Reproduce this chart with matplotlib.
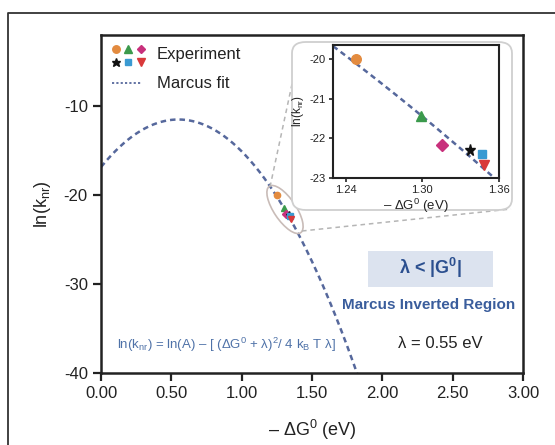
import numpy as np
import matplotlib
matplotlib.use("Agg")
import matplotlib.pyplot as plt
from matplotlib.patches import Ellipse, FancyBboxPatch, Rectangle
from matplotlib.lines import Line2D
from matplotlib.transforms import IdentityTransform

plt.rcParams['font.family'] = ['Liberation Sans', 'DejaVu Sans']
plt.rcParams['mathtext.fontset'] = 'custom'
plt.rcParams['mathtext.rm'] = 'Liberation Sans'
plt.rcParams['mathtext.it'] = 'Liberation Sans:italic'
plt.rcParams['mathtext.bf'] = 'Liberation Sans:bold'
plt.rcParams['mathtext.default'] = 'regular'
plt.rcParams['axes.unicode_minus'] = False

# Marcus fit parameters
ln_A = -11.5
lam = 0.55
kT = 0.0257

# experimental points (-dG0 in eV, ln(knr))
exp_x = [1.248, 1.299, 1.315, 1.337, 1.347, 1.348]
exp_y = [-20.0, -21.45, -22.18, -22.29, -22.40, -22.68]
exp_markers = ['o', '^', 'D', '*', 's', 'v']
exp_colors = ['#e38b3f', '#3b9a4c', '#c8307c', '#111111', '#3a9ad2', '#d9393a']
exp_sizes = [6, 6, 5, 7, 5, 6]

fit_color = '#56689c'


def marcus(x):
    return ln_A - (x - lam) ** 2 / (4 * kT * lam)


W, H = 555, 445
fig = plt.figure(figsize=(W / 100, H / 100), dpi=100)

def px_rect(l, t, r, b):
    return [l / W, (H - b) / H, (r - l) / W, (b - t) / H]

ax = fig.add_axes(px_rect(101, 35, 523, 373))

xs = np.linspace(0, 2.0, 400)
ax.plot(xs, marcus(xs), ls=(0, (2.2, 1.6)), color=fit_color, lw=1.8, zorder=2)
for x, y, m, c, s in zip(exp_x, exp_y, exp_markers, exp_colors, exp_sizes):
    ax.plot([x], [y], marker=m, color=c, ms=s * 0.75, ls='', zorder=3)

ax.set_xlim(0, 3)
ax.set_ylim(-40, -2)
ax.set_xticks([0, 0.5, 1.0, 1.5, 2.0, 2.5, 3.0])
ax.set_xticklabels([f"{v:.2f}" for v in [0, 0.5, 1.0, 1.5, 2.0, 2.5, 3.0]])
ax.set_yticks([-40, -30, -20, -10])
ax.tick_params(labelsize=12, width=1.6, length=6, color='#222222', labelcolor='#222222')
for s in ax.spines.values():
    s.set_linewidth(1.8)
    s.set_color('#222222')
ax.set_xlabel('– ΔG$^0$ (eV)', fontsize=13, labelpad=12, color='#222222')
ax.set_ylabel('ln(k$_{nr}$)', fontsize=13, labelpad=8, color='#222222')

# legend drawn by hand
def axf(px, py):
    return ((px - 101) / 422, (373 - py) / 338)

leg_pos = [(116, 49), (128, 49), (141, 49), (116, 62), (128, 62), (141, 62)]
for (px, py), m, c, s in zip(leg_pos, exp_markers, exp_colors, exp_sizes):
    ax.plot(*axf(px, py), marker=m, color=c, ms=s * 0.9, ls='', transform=ax.transAxes, clip_on=False)
ax.text(*axf(157, 55), 'Experiment', transform=ax.transAxes, fontsize=12, va='center', ha='left', color='#222222')
l0, l1 = axf(112, 83), axf(142, 83)
ax.plot([l0[0], l1[0]], [l0[1], l1[1]], ls=(0, (1.2, 1.2)), color=fit_color, lw=1.3, transform=ax.transAxes)
ax.text(*axf(157, 83), 'Marcus fit', transform=ax.transAxes, fontsize=12, va='center', ha='left', color='#222222')

# annotations
ax.text(*axf(117, 345), 'ln(k$_{nr}$) = ln(A) – [ (ΔG$^0$ + λ)$^2$/ 4 k$_B$ T λ]',
        transform=ax.transAxes, fontsize=9.5, color='#4f72a8', ha='left', va='center')
bx0, by0 = axf(368, 287)
bx1, by1 = axf(493, 251)
ax.add_patch(Rectangle((bx0, by0), bx1 - bx0, by1 - by0, transform=ax.transAxes,
                       facecolor='#dce3ef', edgecolor='none', zorder=1))
ax.text(*axf(430, 268), 'λ < |G$^{\\mathbf{0}}$|', transform=ax.transAxes, fontsize=13,
        fontweight='bold', color='#2b4f8f', ha='center', va='center')
ax.text(*axf(429, 305), 'Marcus Inverted Region', transform=ax.transAxes, fontsize=11,
        fontweight='bold', color='#3a5d9c', ha='center', va='center')
ax.text(*axf(440, 343), 'λ = 0.55 eV', transform=ax.transAxes, fontsize=12,
        color='#222222', ha='center', va='center')

# zoom ellipse and connectors (pixel space)
def to_disp(px, py):
    return (px, H - py)

ell = Ellipse(to_disp(285, 209.5), 56, 22, angle=-56, transform=IdentityTransform(),
              facecolor='none', edgecolor='#c9bcb8', lw=1.2, zorder=4)
ax.add_artist(ell)
for (a, b) in [((270, 187), (301, 42)), ((302, 231), (511, 209))]:
    p0, p1 = to_disp(*a), to_disp(*b)
    fig.add_artist(Line2D([p0[0], p1[0]], [p0[1], p1[1]], transform=IdentityTransform(),
                          color='#b5b5b5', lw=1.1, ls=(0, (3, 2.5)), zorder=4))

# rounded inset box
fig.add_artist(FancyBboxPatch((292 / W, (H - 210) / H), 220 / W, 168 / H,
                              boxstyle='round,pad=0,rounding_size=0.025',
                              transform=fig.transFigure, facecolor='white',
                              edgecolor='#cfcfcf', lw=1.3, zorder=5))

# inset
axi = fig.add_axes(px_rect(333, 45, 499, 178), zorder=6)
xi = np.linspace(1.2, 1.4, 100)
axi.plot(xi, marcus(xi), ls=(0, (2.2, 1.6)), color=fit_color, lw=1.8)
for x, y, m, c, s in zip(exp_x, exp_y, exp_markers, exp_colors, exp_sizes):
    axi.plot([x], [y], marker=m, color=c, ms=s * 1.15, ls='')
axi.set_xlim(1.23, 1.36)
axi.set_ylim(-23, -19.65)
axi.set_xticks([1.24, 1.30, 1.36])
axi.set_xticklabels(['1.24', '1.30', '1.36'])
axi.set_yticks([-23, -22, -21, -20])
axi.tick_params(labelsize=8, width=1.2, length=3, color='#222222', labelcolor='#222222', pad=2)
for s in axi.spines.values():
    s.set_linewidth(1.5)
    s.set_color('#222222')
axi.set_xlabel('– ΔG$^0$ (eV)', fontsize=9.5, labelpad=1, color='#222222')
axi.set_ylabel('ln(k$_{nr}$)', fontsize=8.5, labelpad=3, color='#222222')

# outer frame
fig.add_artist(Line2D([8 / W, 8 / W, 1], [0, (H - 13) / H, (H - 13) / H],
                      transform=fig.transFigure, color='#333333', lw=1.3))

fig.savefig('out.png', dpi=100)
